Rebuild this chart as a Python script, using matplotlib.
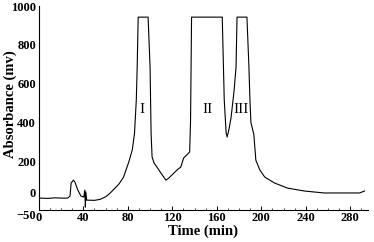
import matplotlib
matplotlib.use("Agg")
import matplotlib.pyplot as plt
from matplotlib.ticker import MultipleLocator

# chromatogram trace
time_min = [0, 8, 15, 22, 26, 28, 29, 31, 32.4, 35, 37.8, 40.4, 41.3, 41.8, 42.2, 43,
            50, 55, 60, 64, 68, 72, 76, 81, 84, 86, 87.6, 88.4, 89.3,
            98.2, 100, 100.9, 101.8, 103.6, 106.2, 109.8, 114.2, 116.9, 121.3,
            125, 127.6, 130.2, 132.9, 135.6, 136.4, 137.3,
            164.9, 166.7, 168.4, 169.3, 171.1, 172.9, 175.6, 177.3, 178.2,
            187.1, 188.9, 189.8, 190.7, 193.3, 194.2, 195.1, 198.7, 203.1,
            212, 223.6, 238.7, 256.4, 277, 288.4, 292.9]
absorbance = [12, 10, 13, 11, 12, 22, 89, 104, 94, 53, 22, 17, 53, -35, 43, 1,
              0, 5, 18, 37, 60, 84, 118, 200, 260, 346, 516, 686, 943,
              943, 686, 346, 223, 192, 171, 140, 104, 115, 140,
              160, 171, 218, 233, 249, 413, 943,
              943, 516, 346, 326, 370, 429, 568, 686, 943,
              943, 686, 516, 400, 340, 274, 207, 156, 120,
              89, 63, 48, 38, 38, 38, 48]

peak_names = ["I", "II", "III"]
peak_t = [93, 151.6, 182]
peak_v = [470, 470, 470]

x_ticks = [0, 40, 80, 120, 160, 200, 240, 280]
y_ticks = [-50, 0, 200, 400, 600, 800, 1000]

plt.rcParams['font.family'] = ['Liberation Serif', 'DejaVu Serif']

fig = plt.figure(figsize=(3.74, 2.42), dpi=100)
ax = fig.add_axes([0.104, 0.132, 0.88, 0.843])

ax.plot(time_min, absorbance, color="black", linewidth=0.8)

for name, t, v in zip(peak_names, peak_t, peak_v):
    ax.text(t, v, name, fontsize=11, ha="center", va="center")

ax.set_xlim(0, 296)
ax.set_ylim(-50, 1000)
ax.set_xticks(x_ticks)
ax.set_yticks(y_ticks)
ax.xaxis.set_minor_locator(MultipleLocator(10))
ax.tick_params(axis="x", which="major", direction="in", length=3, width=0.7, pad=1.5, labelsize=9)
ax.tick_params(axis="x", which="minor", direction="in", length=1.5, width=0.5)
ax.tick_params(axis="y", length=0, pad=2, labelsize=9)
for lab in ax.get_xticklabels() + ax.get_yticklabels():
    lab.set_fontweight("bold")
ylabs = ax.get_yticklabels()
ylabs[0].set_verticalalignment("top")      # -50
ylabs[1].set_verticalalignment("bottom")   # 0

ax.spines["top"].set_visible(False)
ax.spines["right"].set_visible(False)
ax.spines["left"].set_linewidth(0.8)
ax.spines["bottom"].set_linewidth(0.8)

ax.set_xlabel("Time (min)", fontsize=10.5, fontweight="bold", labelpad=0)
ax.set_ylabel("Absorbance (mv)", fontsize=10.5, fontweight="bold")
ax.yaxis.set_label_coords(-0.066, 0.52)

fig.savefig("out.png", dpi=100)
